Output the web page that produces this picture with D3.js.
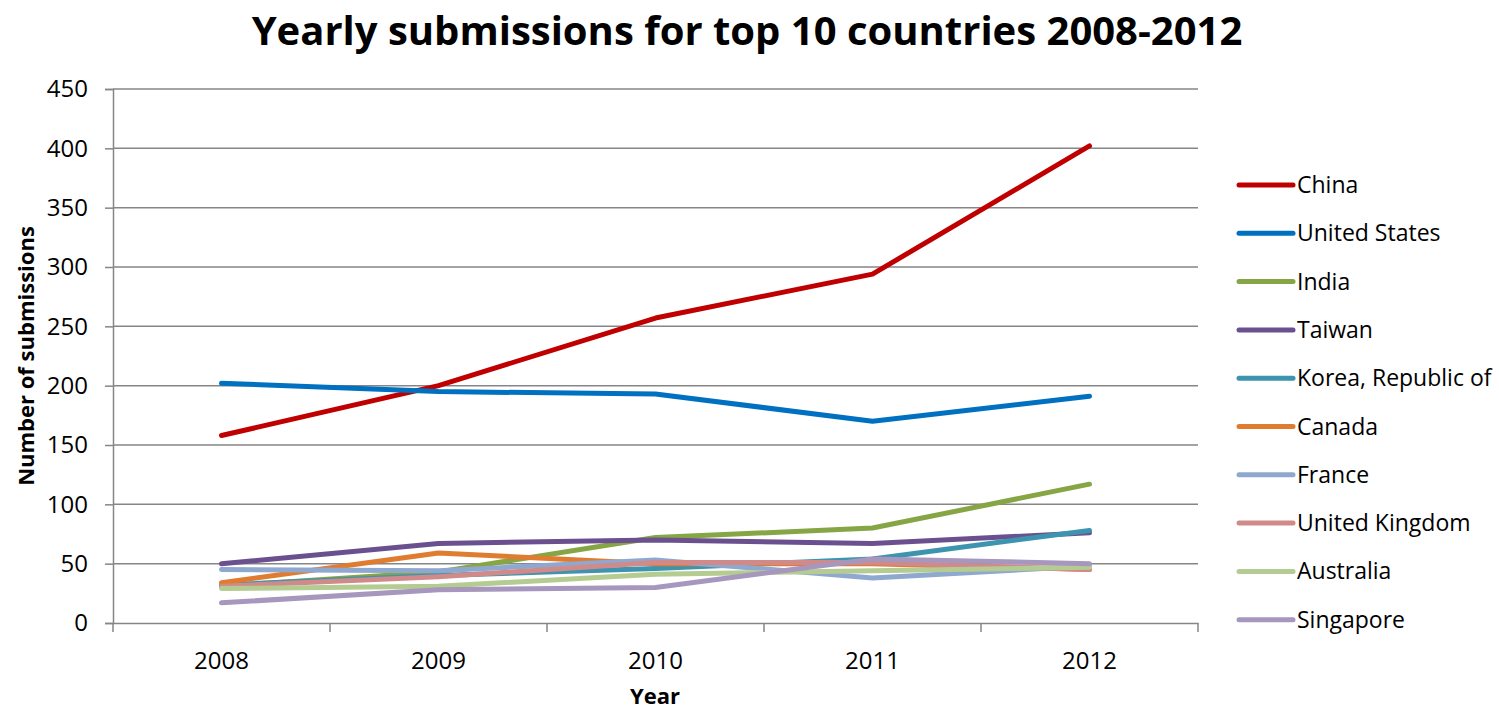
<!DOCTYPE html>
<html><head><meta charset="utf-8">
<script src="https://cdn.jsdelivr.net/npm/d3@7"></script>
<style>body{margin:0;background:#fff;} svg{display:block;} text{font-family:"Open Sans",sans-serif;}</style>
</head><body>
<svg id="c" width="1499" height="709"></svg>
<script>
const years = ["2008","2009","2010","2011","2012"];
const countries = ["China","United States","India","Taiwan","Korea, Republic of","Canada","France","United Kingdom","Australia","Singapore"];
const china = [158,200,257,294,402];
const unitedStates = [202,195,193,170,191];
const india = [31,43,72,80,117];
const taiwan = [50,67,70,67,76];
const korea = [32,40,46,54,78];
const canada = [34,59,50,50,45];
const france = [45,44,53,38,48];
const unitedKingdom = [31,39,51,51,45];
const australia = [29,31,41,44,47];
const singapore = [17,28,30,54,50];
const yTicks = [0,50,100,150,200,250,300,350,400,450];
const seriesValues = [china,unitedStates,india,taiwan,korea,canada,france,unitedKingdom,australia,singapore];
const colors = ["#C00000","#0070C0","#86A544","#6B5090","#3C94AE","#E07C2F","#8FA8D0","#D08A8A","#B4CC92","#A796BE"];

const svg = d3.select("#c");
const L=113,R=1198,T=89,B=623;
const x = d3.scaleBand().domain(years).range([L,R]);
const y = d3.scaleLinear().domain([0,450]).range([B,T]);
const axisColor="#868686";

// gridlines
svg.append("g").selectAll("line").data(yTicks.filter(d=>d>0)).join("line")
  .attr("x1",L).attr("x2",R).attr("y1",d=>y(d)).attr("y2",d=>y(d))
  .attr("stroke",axisColor).attr("stroke-width",1.5);

// y axis
const ya = svg.append("g").attr("transform",`translate(${L},0)`)
  .call(d3.axisLeft(y).tickValues(yTicks).tickSize(8).tickPadding(17));
ya.select(".domain").attr("stroke",axisColor).attr("stroke-width",1.5);
ya.selectAll(".tick line").attr("stroke",axisColor).attr("stroke-width",1.5);
ya.selectAll(".tick text").attr("font-size",24).attr("fill","#000").attr("font-family","Open Sans");

// x axis
const xa = svg.append("g").attr("transform",`translate(0,${B})`)
  .call(d3.axisBottom(x).tickSize(0).tickPadding(29));
xa.select(".domain").attr("stroke",axisColor).attr("stroke-width",1.5);
xa.selectAll(".tick text").attr("font-size",24).attr("fill","#000").attr("font-family","Open Sans");
const bounds = years.map(d=>x(d)).concat([R]);
svg.append("g").selectAll("line").data(bounds).join("line")
  .attr("x1",d=>d).attr("x2",d=>d).attr("y1",B).attr("y2",B+9)
  .attr("stroke",axisColor).attr("stroke-width",1.5);

// lines (first series drawn first, last on top)
const line = d3.line().x((d,i)=>x(years[i])+x.bandwidth()/2).y(d=>y(d));
svg.append("g").selectAll("path").data(d3.range(countries.length)).join("path")
  .attr("d",i=>line(seriesValues[i]))
  .attr("fill","none").attr("stroke",i=>colors[i]).attr("stroke-width",5)
  .attr("stroke-linecap","round").attr("stroke-linejoin","round");

// title
svg.append("text").attr("x",747).attr("y",45).attr("text-anchor","middle")
  .attr("font-size",40).attr("font-weight","bold").text("Yearly submissions for top 10 countries 2008-2012");
// axis titles
svg.append("text").attr("transform","translate(34,356) rotate(-90)").attr("text-anchor","middle")
  .attr("font-size",22).attr("font-weight","bold").text("Number of submissions");
svg.append("text").attr("x",655).attr("y",704).attr("text-anchor","middle")
  .attr("font-size",22).attr("font-weight","bold").text("Year");

// legend
const lg = svg.append("g").selectAll("g").data(countries).join("g")
  .attr("transform",(d,i)=>`translate(1239,${185+i*48.3})`);
lg.append("line").attr("x1",0).attr("x2",54).attr("stroke",(d,i)=>colors[i]).attr("stroke-width",5).attr("stroke-linecap","round");
lg.append("text").attr("x",58).attr("y",8).attr("font-size",23).text(d=>d);
</script>
</body></html>
